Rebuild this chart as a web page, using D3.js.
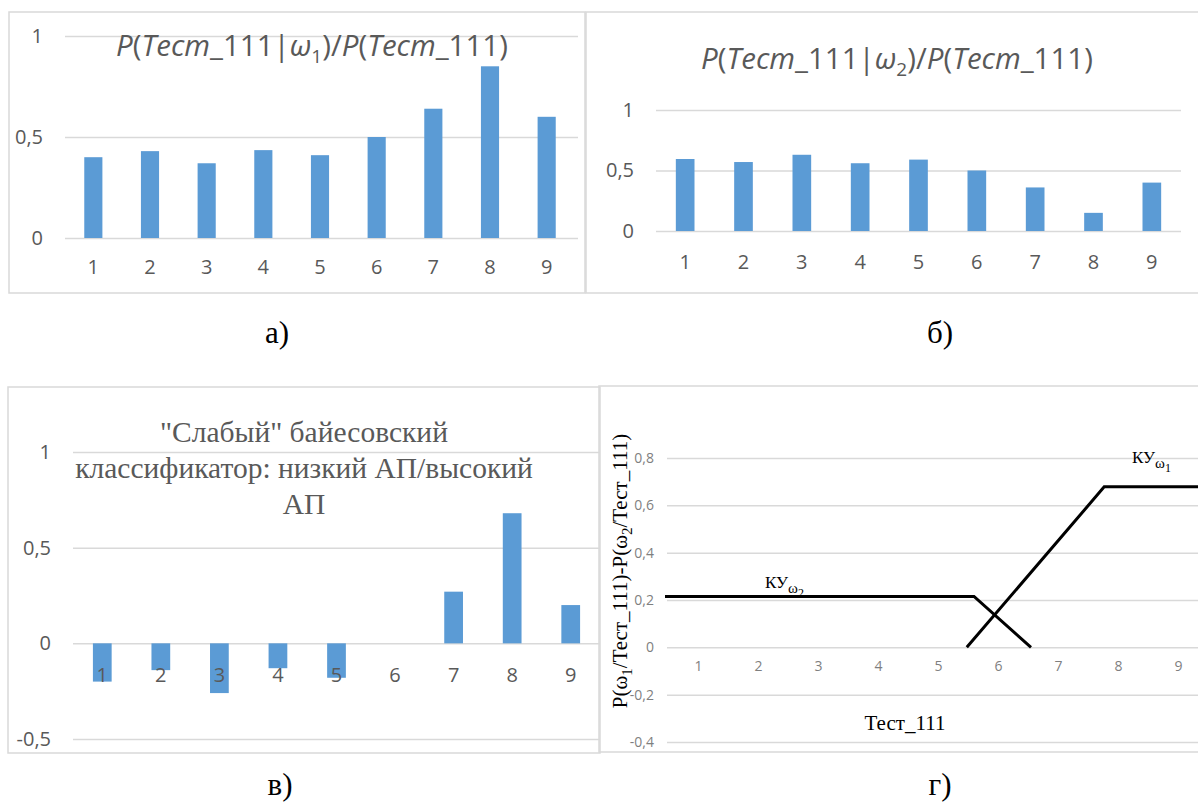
<!DOCTYPE html>
<html>
<head>
<meta charset="utf-8">
<script src="https://cdnjs.cloudflare.com/ajax/libs/d3/7.8.5/d3.min.js"></script>
<style>
  body { margin: 0; background: #fff; }
  svg { display: block; }
</style>
</head>
<body>
<div id="chart"></div>
<script>
// data
const categories = ["1", "2", "3", "4", "5", "6", "7", "8", "9"];
const ratioW1 = [0.40, 0.43, 0.37, 0.435, 0.41, 0.50, 0.64, 0.85, 0.60];
const ratioW2 = [0.595, 0.57, 0.63, 0.56, 0.59, 0.50, 0.36, 0.15, 0.40];
const weakBayes = [-0.20, -0.14, -0.26, -0.13, -0.18, 0, 0.27, 0.68, 0.20];
const ticksAB = [0, 0.5, 1];
const ticksC = [-0.5, 0, 0.5, 1];
const ticksD = [-0.4, -0.2, 0, 0.2, 0.4, 0.6, 0.8];
// decision lines of panel г (x in category units)
const kuW2X = [0.45, 5.6, 6.55];
const kuW2Y = [0.215, 0.215, 0];
const kuW1X = [5.48, 7.77, 9.6];
const kuW1Y = [0, 0.678, 0.678];

const W = 1198, H = 803;
const barColor = "#5b9bd5", gridColor = "#d9d9d9", textGray = "#595959";
const sans = "'Open Sans', 'Noto Sans', sans-serif";
const serif = "'Liberation Serif', 'DejaVu Serif', serif";
const fmt = d => String(d).replace(".", ",");

const svg = d3.select("#chart").append("svg")
  .attr("width", W).attr("height", H);

function frame(x0, y0, x1, y1) {
  svg.append("rect")
    .attr("x", x0).attr("y", y0)
    .attr("width", x1 - x0).attr("height", y1 - y0)
    .attr("fill", "none").attr("stroke", gridColor).attr("stroke-width", 1.5);
}

function barPanel(cfg) {
  frame(...cfg.frame);
  const g = svg.append("g");
  const x = d3.scaleBand().domain(categories).range(cfg.xRange)
    .paddingInner(0.68).paddingOuter(0.34);
  const y = d3.scaleLinear().domain(cfg.yDomain).range(cfg.yRange);

  const yAxis = g.append("g")
    .attr("transform", "translate(" + cfg.xRange[0] + ",0)")
    .call(d3.axisLeft(y).tickValues(cfg.ticks).tickFormat(fmt)
      .tickSize(-(cfg.gridEnd - cfg.xRange[0])).tickPadding(22));
  yAxis.select(".domain").remove();
  yAxis.selectAll("line").attr("stroke", gridColor).attr("stroke-width", 1.5);
  yAxis.selectAll("text").attr("fill", textGray)
    .style("font-family", sans).style("font-size", "20px");

  g.selectAll(".bar")
    .data(cfg.values)
    .enter().append("rect")
      .attr("class", "bar")
      .attr("x", (d, i) => x(categories[i]))
      .attr("y", d => y(Math.max(0, d)))
      .attr("width", x.bandwidth())
      .attr("height", d => Math.abs(y(d) - y(0)))
      .attr("fill", barColor);

  const xAxis = g.append("g")
    .attr("transform", "translate(0," + y(0) + ")")
    .call(d3.axisBottom(x).tickSize(0).tickPadding(cfg.xPad));
  xAxis.select(".domain").remove();
  xAxis.selectAll("text").attr("fill", textGray)
    .style("font-family", sans).style("font-size", "20px");
  return g;
}

// title with italic parts and a subscript omega
function probTitle(cx, cy, sub) {
  const t = svg.append("text")
    .attr("x", cx).attr("y", cy)
    .attr("text-anchor", "middle")
    .attr("fill", textGray)
    .style("font-family", sans).style("font-size", "29.5px");
  const parts = [
    ["P", true], ["(", false], ["Тест", true], ["_111|", false], ["ω", true]
  ];
  parts.forEach(p => t.append("tspan").style("font-style", p[1] ? "italic" : "normal").text(p[0]));
  t.append("tspan").attr("dy", 7).style("font-size", "19px").text(sub);
  t.append("tspan").attr("dy", -7).text(")/");
  t.append("tspan").style("font-style", "italic").text("P");
  t.append("tspan").text("(");
  t.append("tspan").style("font-style", "italic").text("Тест");
  t.append("tspan").text("_111)");
}

// а)
barPanel({
  frame: [9, 12, 585, 293], values: ratioW1, ticks: ticksAB,
  xRange: [65, 575], gridEnd: 578, yDomain: [0, 1], yRange: [238, 36], xPad: 22
});
probTitle(312, 56, "1");

// б)
barPanel({
  frame: [586, 12, 1200, 293], values: ratioW2, ticks: ticksAB,
  xRange: [656, 1181], gridEnd: 1181, yDomain: [0, 1], yRange: [231, 110], xPad: 24
});
probTitle(897, 69, "2");

// в)
barPanel({
  frame: [8, 387, 600, 753], values: weakBayes, ticks: ticksC,
  xRange: [73, 600], gridEnd: 600, yDomain: [-0.5, 1], yRange: [739, 452], xPad: 24
});
const titleC = ["\"Слабый\" байесовский", "классификатор: низкий АП/высокий", "АП"];
svg.append("g").selectAll("text")
  .data(titleC)
  .enter().append("text")
    .attr("x", 304)
    .attr("y", (d, i) => 442 + i * 36)
    .attr("text-anchor", "middle")
    .attr("fill", textGray)
    .style("font-family", serif).style("font-size", "29.5px")
    .text(d => d);

// г)
frame(599, 386, 1200, 752);
const gd = svg.append("g");
const xd = d3.scaleLinear().domain([1, 9]).range([698, 1178]);
const yd = d3.scaleLinear().domain([-0.4, 0.8]).range([742, 458]);
const yAxisD = gd.append("g")
  .attr("transform", "translate(667,0)")
  .call(d3.axisLeft(yd).tickValues(ticksD).tickFormat(fmt).tickSize(-(1198 - 667)).tickPadding(13));
yAxisD.select(".domain").remove();
yAxisD.selectAll("line").attr("stroke", gridColor).attr("stroke-width", 1.5);
yAxisD.selectAll("text").attr("fill", "#7f7f7f")
  .style("font-family", sans).style("font-size", "14px");

const xAxisD = gd.append("g")
  .attr("transform", "translate(0," + yd(0) + ")")
  .call(d3.axisBottom(xd).tickValues(categories.map(Number)).tickSize(0).tickPadding(14));
xAxisD.select(".domain").remove();
xAxisD.selectAll("text").attr("fill", "#7f7f7f")
  .style("font-family", sans).style("font-size", "14px");

const line = d3.line().x(d => xd(d[0])).y(d => yd(d[1]));
[[kuW2X, kuW2Y], [kuW1X, kuW1Y]].forEach(s => {
  gd.append("path")
    .datum(d3.zip(s[0], s[1]))
    .attr("d", line)
    .attr("fill", "none")
    .attr("stroke", "#000")
    .attr("stroke-width", 3);
});

function kuLabel(x0, y0, sub) {
  const t = gd.append("text").attr("x", x0).attr("y", y0)
    .attr("fill", "#000").style("font-family", serif).style("font-size", "17px");
  t.append("tspan").text("КУ");
  t.append("tspan").attr("dy", 5).style("font-size", "15px").text("ω");
  t.append("tspan").attr("dy", 4).style("font-size", "12px").text(sub);
}
kuLabel(765, 588, "2");
kuLabel(1132, 463, "1");

// axis titles of г)
const yTitle = gd.append("text")
  .attr("transform", "translate(627,571) rotate(-90)")
  .attr("text-anchor", "middle")
  .attr("fill", "#000").style("font-family", serif).style("font-size", "21px");
yTitle.append("tspan").text("P(ω");
yTitle.append("tspan").attr("dy", 5).style("font-size", "15px").text("1");
yTitle.append("tspan").attr("dy", -5).text("/Тест_111)-P(ω");
yTitle.append("tspan").attr("dy", 5).style("font-size", "15px").text("2");
yTitle.append("tspan").attr("dy", -5).text("/Тест_111)");

gd.append("text")
  .attr("x", 905).attr("y", 730)
  .attr("text-anchor", "middle")
  .attr("fill", "#000").style("font-family", serif).style("font-size", "21px")
  .text("Тест_111");

// sub-figure letters
const letters = ["а)", "б)", "в)", "г)"];
const letterX = [277, 940, 280, 940];
const letterY = [343, 343, 795, 795];
svg.append("g").selectAll("text")
  .data(letters)
  .enter().append("text")
    .attr("x", (d, i) => letterX[i])
    .attr("y", (d, i) => letterY[i])
    .attr("text-anchor", "middle")
    .attr("fill", "#000")
    .style("font-family", serif).style("font-size", "31px")
    .text(d => d);
</script>
</body>
</html>
